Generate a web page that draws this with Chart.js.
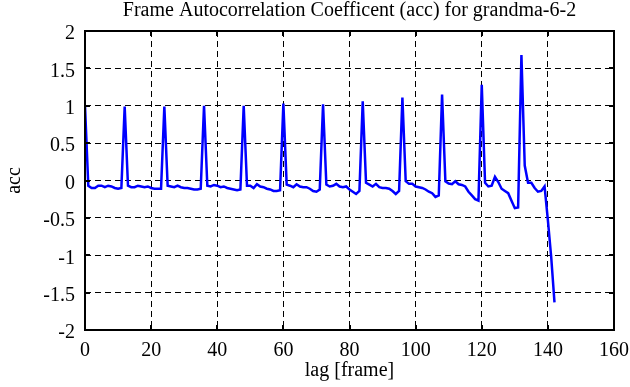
<!DOCTYPE html>
<html>
<head>
<meta charset="utf-8">
<script src="https://cdn.jsdelivr.net/npm/chart.js@4.4.1/dist/chart.umd.min.js"></script>
<style>
  html, body { margin: 0; padding: 0; background: #ffffff; }
  #wrap { width: 630px; height: 387px; }
</style>
</head>
<body>
<div id="wrap"><canvas id="accChart" width="630" height="387"></canvas></div>
<script>
// acc value for lag 0, 1, 2, ... (index = lag in frames)
const accValues = [
  1.0, -0.07, -0.1, -0.1, -0.07, -0.07, -0.09, -0.07, -0.08, -0.1, -0.11, -0.1,
  0.99, -0.07, -0.09, -0.09, -0.07, -0.08, -0.09, -0.08, -0.1, -0.11, -0.11, -0.11,
  0.99, -0.07, -0.08, -0.09, -0.07, -0.09, -0.1, -0.1, -0.11, -0.12, -0.12, -0.11,
  1.0, -0.07, -0.08, -0.06, -0.07, -0.09, -0.08, -0.1, -0.11, -0.12, -0.13, -0.12,
  1.0, -0.07, -0.07, -0.1, -0.05, -0.08, -0.09, -0.11, -0.12, -0.14, -0.14, -0.13,
  1.03, -0.055, -0.07, -0.09, -0.05, -0.08, -0.09, -0.09, -0.11, -0.14, -0.15, -0.12,
  1.02, -0.055, -0.08, -0.07, -0.045, -0.08, -0.09, -0.08, -0.12, -0.15, -0.18, -0.14,
  1.06, -0.03, -0.055, -0.08, -0.045, -0.09, -0.1, -0.1, -0.11, -0.14, -0.18, -0.14,
  1.11, -0.01, -0.045, -0.045, -0.08, -0.09, -0.1, -0.12, -0.15, -0.17, -0.22, -0.2,
  1.15, -0.01, -0.04, -0.05, -0.01, -0.05, -0.06, -0.08, -0.15, -0.2, -0.25, -0.27,
  1.28, -0.03, -0.08, -0.07, 0.05, -0.02, -0.11, -0.14, -0.17, -0.27, -0.37, -0.36,
  1.68, 0.2, -0.03, -0.03, -0.1, -0.15, -0.14, -0.08, -0.53, -1.02, -1.63
];

const xTicks = [0, 20, 40, 60, 80, 100, 120, 140, 160];
const yTicks = [-2, -1.5, -1, -0.5, 0, 0.5, 1, 1.5, 2];
const yTickLabels = ["-2", "-1.5", "-1", "-0.5", "0", "0.5", "1", "1.5", "2"];

const titleText = "Frame Autocorrelation Coefficent (acc) for grandma-6-2";
const serif = "'Liberation Serif', 'DejaVu Serif', serif";

// frame, inward tick marks and title centred over the plot
const framePlugin = {
    id: "frame",
    afterDraw(chart) {
        const ctx = chart.ctx;
        const a = chart.chartArea;
        const xs = chart.scales.x, ys = chart.scales.y;
        ctx.save();
        ctx.setLineDash([]);
        ctx.strokeStyle = "#000";
        ctx.lineWidth = 2;
        ctx.strokeRect(a.left, a.top, a.right - a.left, a.bottom - a.top);
        const len = 5;
        ctx.beginPath();
        xTicks.forEach((v) => {
            const px = Math.round(xs.getPixelForValue(v));
            ctx.moveTo(px, a.top); ctx.lineTo(px, a.top + len);
            ctx.moveTo(px, a.bottom); ctx.lineTo(px, a.bottom - len);
        });
        yTicks.forEach((v) => {
            const py = Math.round(ys.getPixelForValue(v));
            ctx.moveTo(a.left, py); ctx.lineTo(a.left + len, py);
            ctx.moveTo(a.right, py); ctx.lineTo(a.right - len, py);
        });
        ctx.stroke();

        ctx.fillStyle = "#000";
        ctx.font = "20px " + serif;
        ctx.textAlign = "center";
        ctx.textBaseline = "middle";
        ctx.fillText(titleText, (a.left + a.right) / 2, 11);
        ctx.restore();
    }
};

const ctx = document.getElementById("accChart").getContext("2d");
new Chart(ctx, {
    type: "line",
    data: {
        datasets: [{
            label: "acc",
            data: accValues.map((v, i) => ({ x: i, y: v })),
            borderColor: "#0000ff",
            borderWidth: 2.5,
            pointRadius: 0,
            tension: 0,
            fill: false
        }]
    },
    options: {
        responsive: false,
        animation: false,
        devicePixelRatio: 1,
        layout: { padding: { top: 31, right: 16, left: 0, bottom: 0 } },
        plugins: {
            legend: { display: false },
            title: { display: false },
            tooltip: { enabled: false }
        },
        scales: {
            x: {
                type: "linear",
                min: 0,
                max: 160,
                afterBuildTicks: (s) => { s.ticks = xTicks.map((v) => ({ value: v })); },
                afterFit: (s) => { s.height = 57; s.paddingLeft = 0; s.paddingRight = 0; },
                grid: { color: "#000", lineWidth: 1, drawTicks: false },
                border: { display: false, dash: [6, 4] },
                ticks: { color: "#000", font: { family: serif, size: 20 }, padding: 9, maxRotation: 0 },
                title: { display: true, text: "lag [frame]", color: "#000", font: { family: serif, size: 20 }, padding: { top: 2 } }
            },
            y: {
                min: -2,
                max: 2,
                afterBuildTicks: (s) => { s.ticks = yTicks.map((v) => ({ value: v })); },
                afterFit: (s) => { s.width = 85; s.paddingTop = 0; s.paddingBottom = 0; },
                grid: { color: "#000", lineWidth: 1, drawTicks: false },
                border: { display: false, dash: [6, 4] },
                ticks: {
                    color: "#000",
                    font: { family: serif, size: 20 },
                    padding: 10,
                    labelOffset: 3,
                    callback: (v) => yTickLabels[yTicks.indexOf(v)]
                },
                title: { display: true, text: "acc", color: "#000", font: { family: serif, size: 20 }, padding: { top: 3 } }
            }
        }
    },
    plugins: [framePlugin]
});
</script>
</body>
</html>
